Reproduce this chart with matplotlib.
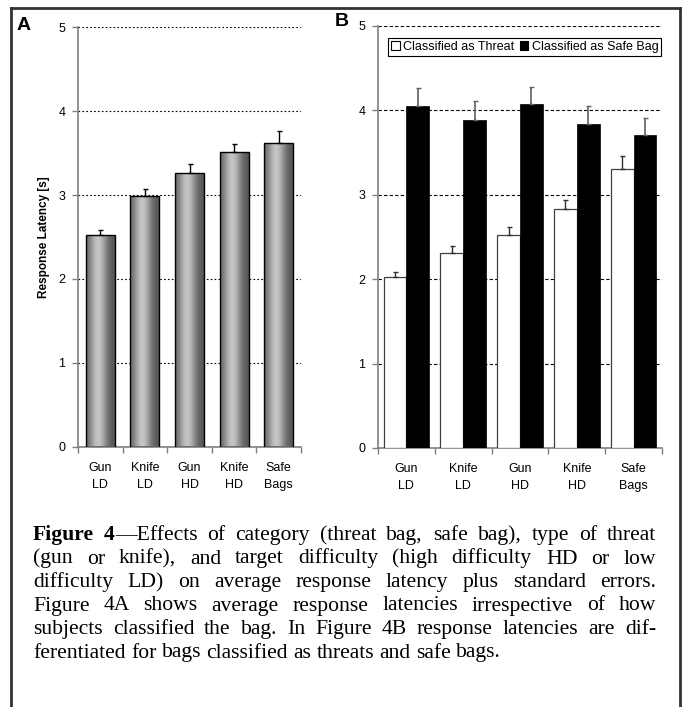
import numpy as np
import matplotlib
matplotlib.use("Agg")
import matplotlib.pyplot as plt
from matplotlib.lines import Line2D
from matplotlib.patches import Patch

# ---------------- data ----------------
categories = ["Gun\nLD", "Knife\nLD", "Gun\nHD", "Knife\nHD", "Safe\nBags"]
latency_all = [2.52, 2.99, 3.26, 3.51, 3.62]
se_all = [0.06, 0.08, 0.11, 0.10, 0.14]
latency_threat = [2.03, 2.31, 2.52, 2.83, 3.31]
se_threat = [0.05, 0.08, 0.10, 0.11, 0.15]
latency_safe = [4.05, 3.89, 4.07, 3.84, 3.71]
se_safe = [0.22, 0.22, 0.21, 0.21, 0.20]
yticks = [0, 1, 2, 3, 4, 5]
legend_labels = ["Classified as Threat", "Classified as Safe Bag"]
ylabel = "Response Latency [s]"
caption_lines = [
    [[("Figure", "bold")], [("4", "bold"), ("\u2014Effects", "normal")], "of", "category", "(threat", "bag,", "safe", "bag),", "type", "of", "threat"],
    "(gun or knife), and target difficulty (high difficulty HD or low".split(),
    "difficulty LD) on average response latency plus standard errors.".split(),
    "Figure 4A shows average response latencies irrespective of how".split(),
    "subjects classified the bag. In Figure 4B response latencies are dif-".split(),
    "ferentiated for bags classified as threats and safe bags.".split(),
]

W, H = 686, 707
DPI = 100
plt.rcParams['font.family'] = ['Liberation Sans', 'DejaVu Sans']
fig = plt.figure(figsize=(W / DPI, H / DPI), dpi=DPI)

def fx(px):
    return px / W

def fy(py):
    return 1 - py / H

AXIS_GRAY = "#7f7f7f"

def style_axes(ax, grid_ls):
    ax.set_ylim(0, 5)
    ax.set_xlim(-0.5, len(categories) - 0.5)
    ax.set_yticks(yticks)
    ax.set_yticklabels([str(t) for t in yticks], fontsize=9)
    ax.set_xticks(np.arange(len(categories) + 1) - 0.5)
    ax.set_xticklabels([])
    ax.set_xticks(np.arange(len(categories)), minor=True)
    ax.set_xticklabels(categories, minor=True, fontsize=9, linespacing=1.5)
    ax.tick_params(axis='x', which='minor', length=0, pad=11)
    ax.tick_params(axis='x', which='major', length=4, width=1, color=AXIS_GRAY, direction='out')
    ax.tick_params(axis='y', length=4, width=1, color=AXIS_GRAY, direction='out', pad=5)
    for s in ['top', 'right']:
        ax.spines[s].set_visible(False)
    for s in ['left', 'bottom']:
        ax.spines[s].set_color(AXIS_GRAY)
        ax.spines[s].set_linewidth(1.2)
    for t in yticks[1:]:
        ax.axhline(t, color='black', lw=0.8, ls=grid_ls, zorder=0.5)
    ax.set_facecolor('none')

# ---------------- panel A ----------------
axA = fig.add_axes([fx(78), fy(447), fx(301) - fx(78), fy(27) - fy(447)])
style_axes(axA, (0, (1.5, 2.0)))
x = np.arange(len(categories))
bars = axA.bar(x, latency_all, width=0.65, facecolor='none', edgecolor='black', lw=1.0, zorder=3)
t = np.linspace(0, 1, 64)
prof = 0.32 + 0.45 * np.exp(-((t - 0.42) / 0.32) ** 2)
grad = prof[np.newaxis, :]
for b in bars:
    x0, w, h = b.get_x(), b.get_width(), b.get_height()
    im = axA.imshow(grad, extent=[x0, x0 + w, 0, h], aspect='auto', cmap='gray',
                    vmin=0, vmax=1, zorder=2, interpolation='bilinear')
    im.set_clip_path(b)
axA.set_xlim(-0.5, len(categories) - 0.5)
axA.set_ylim(0, 5)
axA.errorbar(x, latency_all, yerr=[np.zeros(len(x)), se_all], fmt='none', ecolor='black',
             elinewidth=1.0, capsize=1.8, capthick=1.0, zorder=4)
axA.set_ylabel(ylabel, fontsize=8.5, fontweight='bold')
axA.yaxis.set_label_coords((50 - 78) / 223, 0.5)

# ---------------- panel B ----------------
axB = fig.add_axes([fx(378), fy(448), fx(662) - fx(378), fy(26) - fy(448)])
style_axes(axB, (0, (3.0, 2.0)))
bw = 0.4
axB.bar(x - bw / 2, latency_threat, width=bw, facecolor='white', edgecolor='#404040', lw=0.9, zorder=3)
axB.bar(x + bw / 2, latency_safe, width=bw, facecolor='black', edgecolor='black', lw=0.5, zorder=3)
axB.errorbar(x - bw / 2, latency_threat, yerr=[np.zeros(len(x)), se_threat], fmt='none',
             ecolor='#303030', elinewidth=1.0, capsize=1.8, capthick=1.0, zorder=4)
axB.errorbar(x + bw / 2, latency_safe, yerr=[np.zeros(len(x)), se_safe], fmt='none',
             ecolor='#606060', elinewidth=1.2, capsize=1.8, capthick=1.0, zorder=4)
handles = [Patch(facecolor='white', edgecolor='black', lw=0.8),
           Patch(facecolor='black', edgecolor='black', lw=0.8)]
leg = axB.legend(handles, legend_labels, loc='upper right', bbox_to_anchor=(0.998, 0.972),
                 ncol=2, fontsize=9, frameon=True, fancybox=False, edgecolor='black',
                 framealpha=1, handlelength=0.7, handleheight=0.7, handletextpad=0.25,
                 columnspacing=0.45, borderpad=0.25, borderaxespad=0)
leg.get_frame().set_linewidth(0.8)

# panel labels
fig.text(fx(17), fy(25), "A", fontsize=14, fontweight='bold', va='center', ha='left')
fig.text(fx(335), fy(22), "B", fontsize=14, fontweight='bold', va='center', ha='left')

# frame (open at bottom)
fc = "#333333"
fig.add_artist(Line2D([fx(11), fx(11)], [fy(8), 0], transform=fig.transFigure, color=fc, lw=2.0))
fig.add_artist(Line2D([fx(680), fx(680)], [fy(8), 0], transform=fig.transFigure, color=fc, lw=2.0))
fig.add_artist(Line2D([fx(11), fx(680)], [fy(8), fy(8)], transform=fig.transFigure, color=fc, lw=2.0))

# ---------------- caption (justified) ----------------
fig.canvas.draw()
renderer = fig.canvas.get_renderer()
CAP_FONT = ['Liberation Serif', 'DejaVu Serif']
CAP_SIZE = 15.6
left_px, right_px = 33, 656
baseline0 = 540
line_step = 23.5

def seg_list(tok):
    if isinstance(tok, str):
        return [(tok, 'normal')]
    return tok

def measure(text, weight):
    tt = fig.text(0, 0, text, fontsize=CAP_SIZE, family=CAP_FONT, fontweight=weight)
    w = tt.get_window_extent(renderer).width
    tt.remove()
    return w

space_w = measure("a b", 'normal') - measure("ab", 'normal')
for li, line in enumerate(caption_lines):
    toks = [seg_list(tk) for tk in line]
    widths = [[measure(s, wt) for s, wt in tk] for tk in toks]
    totals = [sum(ws) for ws in widths]
    last = li == len(caption_lines) - 1
    if last or len(toks) < 2:
        gap = space_w
    else:
        gap = (right_px - left_px - sum(totals)) / (len(toks) - 1)
    xcur = left_px
    yb = baseline0 + li * line_step
    for tk, ws in zip(toks, widths):
        xs = xcur
        for (s, wt), wd in zip(tk, ws):
            fig.text(fx(xs), fy(yb), s, fontsize=CAP_SIZE, family=CAP_FONT, fontweight=wt,
                     ha='left', va='baseline')
            xs += wd
        xcur += sum(ws) + gap

fig.savefig("out.png", dpi=DPI)
